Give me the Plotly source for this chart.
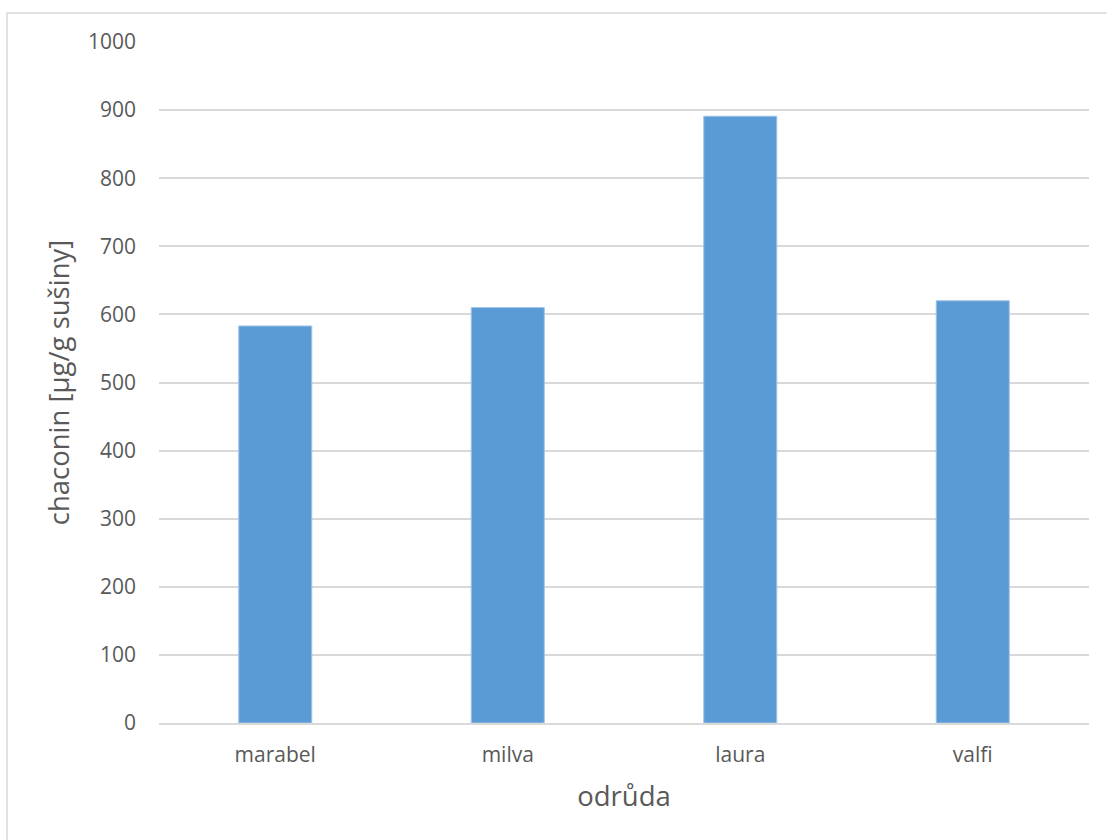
import plotly.graph_objects as go

# Chaconin content by potato variety
varieties = ["marabel", "milva", "laura", "valfi"]
chaconin = [583, 610, 891, 620]

y_ticks = [0, 100, 200, 300, 400, 500, 600, 700, 800, 900, 1000]

W, H = 1107, 840
ML, MR, MT, MB = 159, 18, 42, 117
pw = W - ML - MR
ph = H - MT - MB

text_color = "#595959"
grid_color = "#D9D9D9"
font_family = "Open Sans, Lato, sans-serif"

fig = go.Figure(
    go.Bar(
        x=varieties,
        y=chaconin,
        marker=dict(color="#5B9BD5", line=dict(color="#9DC3E6", width=1)),
        hoverinfo="x+y",
    )
)

fig.update_layout(
    width=W,
    height=H,
    margin=dict(l=ML, r=MR, t=MT, b=MB, pad=0),
    paper_bgcolor="white",
    plot_bgcolor="white",
    bargap=0.686,
    showlegend=False,
    font=dict(family=font_family, color=text_color),
    xaxis=dict(
        showgrid=False,
        showline=True,
        linecolor=grid_color,
        linewidth=1.5,
        ticks="",
        ticklabelstandoff=12,
        tickfont=dict(size=21, color=text_color),
        title=dict(text="odrůda", font=dict(size=27.5, color=text_color), standoff=20),
    ),
    yaxis=dict(
        range=[0, 1000],
        tickvals=y_ticks,
        showgrid=True,
        gridcolor=grid_color,
        gridwidth=1.5,
        zeroline=False,
        showline=False,
        ticks="",
        ticklabelstandoff=22,
        tickfont=dict(size=21, color=text_color),
        title=dict(text="chaconin [µg/g sušiny]", font=dict(size=27.5, color=text_color), standoff=10),
    ),
    shapes=[
        dict(
            type="rect",
            xref="paper",
            yref="paper",
            x0=(7 - ML) / pw,
            x1=1.2,
            y0=-0.3,
            y1=1 + (MT - 13) / ph,
            line=dict(color=grid_color, width=1.5),
            fillcolor="rgba(0,0,0,0)",
            layer="below",
        )
    ],
)

fig.write_html("out.html")
